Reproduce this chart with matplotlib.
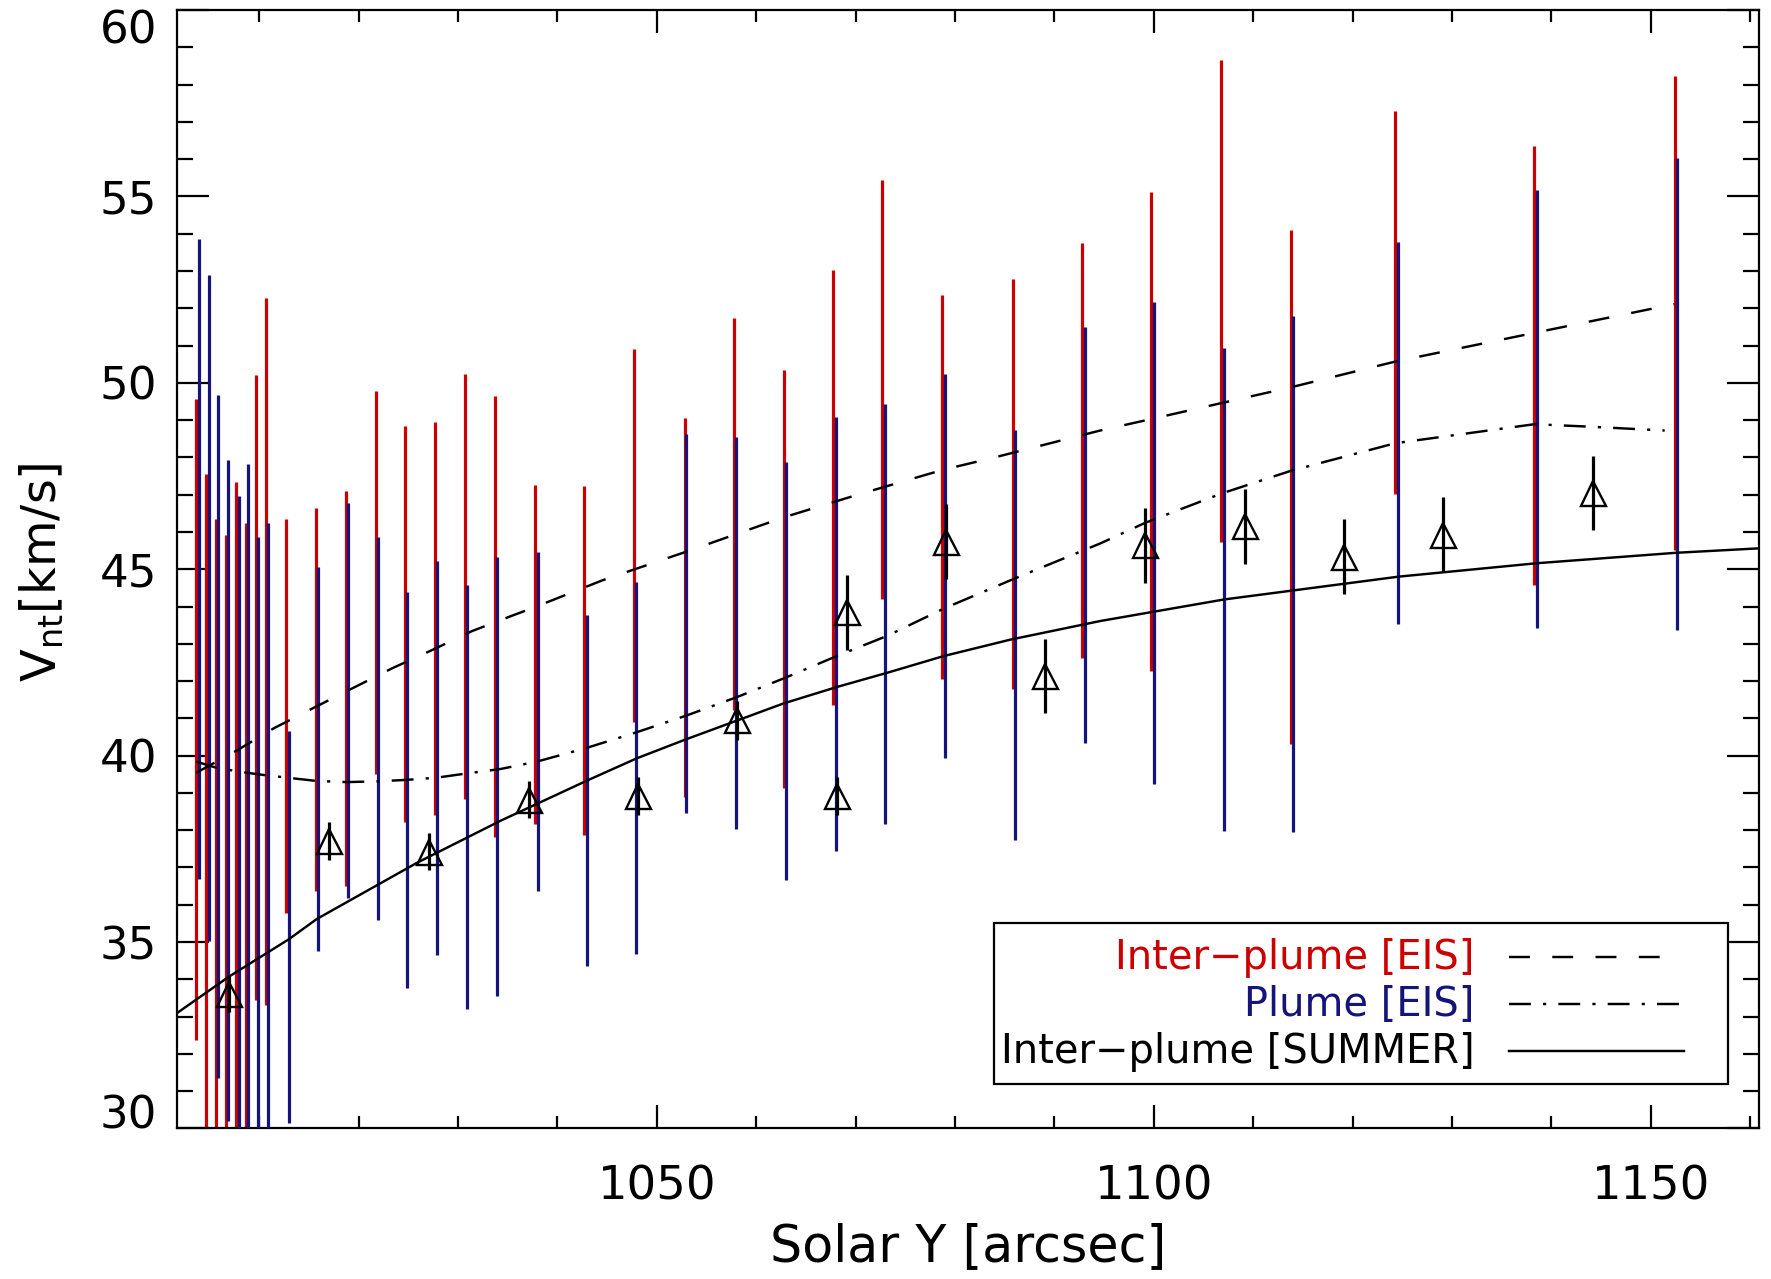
import matplotlib
matplotlib.use("Agg")
import matplotlib.pyplot as plt
from matplotlib.patches import Rectangle
from matplotlib.lines import Line2D

plt.rcParams['font.family'] = ['DejaVu Sans']
plt.rcParams['mathtext.fontset'] = 'dejavusans'

# ---------------- data ----------------
# Inter-plume (EIS) error bars: x, lower, upper
red_x = [1003.6, 1004.65, 1005.65, 1006.65, 1007.7, 1008.7, 1009.65, 1010.7, 1012.7, 1015.7,
         1018.7, 1021.7, 1024.7, 1027.7, 1030.75, 1033.7, 1037.7, 1042.7, 1047.7, 1052.8,
         1057.75, 1062.75, 1067.75, 1072.7, 1078.7, 1085.8, 1092.8, 1099.75, 1106.8, 1113.8,
         1124.3, 1138.3, 1152.4]
red_hi = [49.56, 47.55, 46.35, 45.93, 47.33, 46.25, 50.2, 52.27, 46.35, 46.65,
          47.1, 49.79, 48.84, 48.94, 50.24, 49.64, 47.26, 47.23, 50.9, 49.06,
          51.75, 50.34, 53.03, 55.44, 52.36, 52.78, 53.74, 55.12, 58.65, 54.09,
          57.29, 56.35, 58.22]
red_lo = [32.38, 29.0, 29.0, 29.0, 29.0, 29.0, 33.44, 33.31, 35.79, 36.38,
          36.49, 39.51, 38.22, 38.4, 38.85, 37.82, 38.17, 37.87, 40.91, 38.9,
          41.23, 39.12, 41.36, 44.21, 42.05, 41.8, 42.61, 42.26, 45.72, 40.3,
          47.03, 44.58, 45.51]

# Plume (EIS) error bars
blue_x = [1003.9, 1004.9, 1005.9, 1006.9, 1007.95, 1008.9, 1009.9, 1010.9, 1012.95, 1015.95,
          1018.95, 1021.9, 1024.9, 1027.9, 1030.9, 1033.9, 1038.0, 1043.0, 1047.95, 1052.95,
          1057.95, 1063.0, 1068.0, 1073.0, 1079.0, 1086.0, 1093.05, 1100.0, 1107.05, 1114.05,
          1124.6, 1138.55, 1152.6]
blue_hi = [53.86, 52.9, 49.67, 47.93, 46.96, 47.82, 45.86, 46.23, 40.66, 45.06,
           46.78, 45.86, 44.38, 45.22, 44.59, 45.34, 45.47, 43.77, 44.67, 48.62,
           48.54, 47.88, 49.09, 49.43, 50.24, 48.73, 51.49, 52.16, 50.93, 51.78,
           53.77, 55.17, 56.03]
blue_lo = [36.69, 35.03, 31.35, 30.21, 29.0, 29.0, 29.0, 29.0, 30.15, 34.76,
           36.19, 35.59, 33.78, 34.66, 33.21, 33.54, 36.38, 34.37, 34.68, 38.45,
           38.03, 36.66, 37.44, 38.17, 39.94, 37.74, 40.33, 39.25, 37.99, 37.96,
           43.52, 43.41, 43.38]

# Triangles with error bars
tri_x = [1007.0, 1017.0, 1027.1, 1037.1, 1048.1, 1058.1, 1068.1, 1069.1, 1079.1, 1089.1,
         1099.1, 1109.15, 1119.15, 1129.1, 1144.2]
tri_y = [33.6, 37.71, 37.42, 38.82, 38.92, 40.95, 38.92, 43.84, 45.74, 42.14,
         45.64, 46.15, 45.34, 45.93, 47.04]
tri_err = [0.48, 0.5, 0.5, 0.5, 0.5, 0.52, 0.5, 1.0, 1.0, 1.0,
           1.0, 1.0, 1.0, 1.0, 1.0]

# Inter-plume [EIS] curve (dashed)
ip_x = [1003.66, 1007.76, 1011.44, 1015.46, 1019.33, 1023.35, 1027.54, 1031.4, 1035.6, 1037.6,
        1044.6, 1053.4, 1062.75, 1070.1, 1078.7, 1084.0, 1094.6, 1099.77, 1113.8, 1124.3,
        1138.3, 1152.37]
ip_y = [39.54, 40.14, 40.73, 41.28, 41.8, 42.34, 42.85, 43.34, 43.77, 43.97,
        44.71, 45.51, 46.39, 46.99, 47.66, 48.0, 48.72, 49.03, 49.88, 50.57,
        51.34, 52.11]

# Plume [EIS] curve (dash-dot)
pl_x = [1003.66, 1005.74, 1008.76, 1010.77, 1015.8, 1018.8, 1021.84, 1024.86, 1027.88, 1030.55,
        1034.25, 1037.94, 1042.97, 1048.0, 1053.03, 1058.06, 1062.75, 1068.1, 1073.15, 1079.0,
        1085.55, 1094.6, 1099.1, 1106.8, 1113.8, 1124.3, 1138.3, 1144.1, 1151.4]
pl_y = [39.84, 39.67, 39.54, 39.47, 39.32, 39.29, 39.31, 39.35, 39.41, 39.51,
        39.64, 39.84, 40.21, 40.63, 41.08, 41.57, 42.07, 42.67, 43.21, 43.96,
        44.7, 45.69, 46.24, 47.03, 47.64, 48.38, 48.89, 48.82, 48.72]

# Inter-plume [SUMMER] curve (solid)
su_x = [1001.7, 1007.0, 1012.95, 1015.8, 1025.9, 1034.25, 1042.97, 1048.0, 1052.86, 1062.75,
        1068.1, 1073.15, 1078.85, 1085.55, 1094.6, 1099.77, 1107.1, 1114.0, 1124.6, 1138.5,
        1152.5, 1160.9]
su_y = [33.09, 34.08, 35.07, 35.62, 37.13, 38.25, 39.33, 39.93, 40.43, 41.4,
        41.84, 42.22, 42.67, 43.11, 43.61, 43.85, 44.19, 44.43, 44.8, 45.16,
        45.44, 45.56]

x_major = [1050, 1100, 1150]
y_major = [30, 35, 40, 45, 50, 55, 60]
legend_labels = ["Inter\u2212plume [EIS]", "Plume [EIS]", "Inter\u2212plume [SUMMER]"]

RED = '#cc0000'
BLUE = '#14147a'

# ---------------- figure ----------------
fig = plt.figure(figsize=(17.71, 12.79), dpi=100)
ax = fig.add_axes([0.0998, 0.1177, 0.8935, 0.8745])

ax.vlines(red_x, red_lo, red_hi, colors=RED, linewidth=2.3, zorder=2)
ax.vlines(blue_x, blue_lo, blue_hi, colors=BLUE, linewidth=2.3, zorder=3)

LW = 1.75
DASH = (0, (8.6, 9.2))
DASHDOT = (0, (9.0, 5.0, 1.3, 5.0))
ax.plot(ip_x, ip_y, color='black', lw=LW, linestyle=DASH, zorder=4)
ax.plot(pl_x, pl_y, color='black', lw=LW, linestyle=DASHDOT, zorder=4)
ax.plot(su_x, su_y, color='black', lw=LW, linestyle='-', zorder=4)

ax.errorbar(tri_x, tri_y, yerr=tri_err, fmt='none', ecolor='black', elinewidth=2.3,
            capsize=0, zorder=5)
ax.plot(tri_x, tri_y, linestyle='none', marker='^', ms=18, mfc='none', mec='black',
        mew=1.7, zorder=6)

ax.set_xlim(1001.7, 1160.9)
ax.set_ylim(30, 60)

ax.set_xticks(x_major)
ax.set_xticks(list(range(1010, 1161, 10)), minor=True)
ax.set_yticks(y_major)
ax.set_yticks(list(range(30, 61)), minor=True)

ax.tick_params(axis='both', which='both', direction='in', top=True, right=True,
               width=1.6, colors='black')
ax.tick_params(axis='y', which='major', length=22.8, labelsize=32.5, pad=14)
ax.tick_params(axis='y', which='minor', length=11.5)
ax.tick_params(axis='x', which='major', length=16.3, labelsize=33.5, pad=26)
ax.tick_params(axis='x', which='minor', length=8.4)
for s in ax.spines.values():
    s.set_linewidth(1.6)

ylabels = ax.get_yticklabels()
ylabels[0].set_va('baseline')
ylabels[-1].set_va('top')

ax.set_xlabel("Solar Y [arcsec]", fontsize=36.5, va='center')
ax.xaxis.set_label_coords(0.5, -0.106)
ax.set_ylabel(r"V$_{\rm nt}$[km/s]", fontsize=34.5, va='center', ha='center')
ax.yaxis.set_label_coords(-0.085, 0.497)

# ---------------- legend ----------------
ax.add_patch(Rectangle((0.5165, 0.0398), 0.9804 - 0.5165, 0.1839 - 0.0398,
                       transform=ax.transAxes, facecolor='white', edgecolor='black',
                       linewidth=1.6, zorder=7))
rows_text_y = [0.1423, 0.1004, 0.0589]
rows_line_y = [0.1530, 0.1115, 0.0697]
rows_line_x1 = [0.9412, 0.9500, 0.9526]
colors = [RED, BLUE, 'black']
styles = [DASH, DASHDOT, '-']
for lab, ty, ly, x1, c, st in zip(legend_labels, rows_text_y, rows_line_y, rows_line_x1,
                                  colors, styles):
    ax.text(0.8201, ty, lab, transform=ax.transAxes, ha='right', va='baseline',
            fontsize=28.8, color=c, zorder=8)
    ax.add_line(Line2D([0.8418, x1], [ly, ly], transform=ax.transAxes, color='black',
                       lw=LW, linestyle=st, zorder=8))

fig.savefig("out.png", dpi=100)
